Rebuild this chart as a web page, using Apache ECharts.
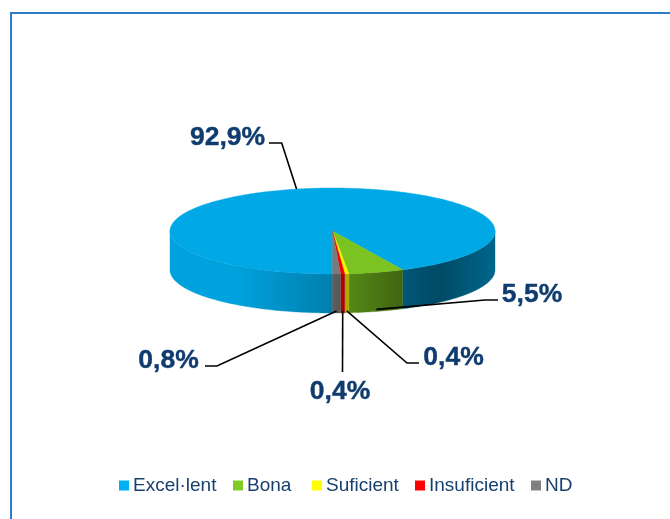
<!DOCTYPE html>
<html>
<head>
<meta charset="utf-8">
<style>html,body{margin:0;padding:0;background:#fff}#c{width:670px;height:519px}</style>
<script src="https://cdn.jsdelivr.net/npm/echarts@6/dist/echarts.min.js"></script>
</head>
<body>
<div id="c"></div>
<script>
// ---- data ----
const categories = ['Excel·lent', 'Bona', 'Suficient', 'Insuficient', 'ND'];
const values = [92.9, 5.5, 0.4, 0.4, 0.8];
const valueLabels = ['92,9%', '5,5%', '0,4%', '0,4%', '0,8%'];

// ---- styles and layout ----
const colors = ['#00B0F0', '#80CC22', '#FFFF00', '#FF0000', '#808080'];
const legendLeft = [119, 233, 312, 415, 531];
const pie = { cx: 332.5, cy: 231, rx: 162.5, ry: 43, depth: 39, start: 180 };
// label centre, and the bend / end of each leader line, per category
const labelLayout = [
  { text: [227.5, 138], line: [[281.7, 143], [269, 143]] },
  { text: [532, 295], line: [[485, 300], [498, 300]] },
  { text: [453.5, 358], line: [[407, 363], [419, 363]] },
  { text: [340, 392], line: [[342.5, 372]] },
  { text: [168.5, 361], line: [[217, 366], [205, 366]] }
];
const labelColor = '#0F3B6E';
const legendColor = '#17406F';
const fontFamily = '"Liberation Sans", Arial, sans-serif';
// side shade across the width of the pie: [fraction, brightness]
const sideShade = [[0, 0.92], [0.2, 0.92], [0.5, 0.72], [0.71, 0.5], [0.83, 0.42], [1, 0.58]];

function shade(hex, k) {
  const n = parseInt(hex.slice(1), 16);
  const f = s => Math.round(((n >> s) & 255) * k);
  return 'rgb(' + f(16) + ',' + f(8) + ',' + f(0) + ')';
}
function point(a, dy) {
  const r = a * Math.PI / 180;
  return [pie.cx + pie.rx * Math.sin(r), pie.cy - pie.ry * Math.cos(r) + (dy || 0)];
}
function arc(a0, a1, dy) {
  const pts = [];
  const n = Math.max(2, Math.ceil(Math.abs(a1 - a0)));
  for (let i = 0; i <= n; i++) pts.push(point(a0 + (a1 - a0) * i / n, dy));
  return pts;
}
const total = values.reduce((a, b) => a + b, 0);
const spans = [];
values.reduce((acc, v) => {
  const a1 = acc + v / total * 360;
  spans.push([acc, a1]);
  return a1;
}, pie.start);

function renderSlice(index) {
  const [a0, a1] = spans[index];
  const col = colors[index];
  const fill = {
    type: 'linear', global: true,
    x: pie.cx - pie.rx, y: 0, x2: pie.cx + pie.rx, y2: 0,
    colorStops: sideShade.map(s => ({ offset: s[0], color: shade(col, s[1]) }))
  };
  const children = [];
  // the visible wall: the front half of the rim, 90..270 and 450..630
  [[90, 270], [450, 630]].forEach(range => {
    const from = Math.max(a0, range[0]), to = Math.min(a1, range[1]);
    if (to <= from) return;
    const pts = arc(from, to, 0).concat(arc(to, from, pie.depth));
    children.push({
      type: 'polygon', silent: true, z2: 1,
      shape: { points: pts },
      style: { fill: fill, stroke: fill, lineWidth: 0.4 }
    });
  });
  // the top face
  const face = shade(col, 0.955);
  children.push({
    type: 'polygon', silent: true, z2: 2,
    shape: { points: [[pie.cx, pie.cy]].concat(arc(a0, a1, 0)) },
    style: { fill: face, stroke: face, lineWidth: 0.4 }
  });
  // leader line from the rim at the slice's middle angle
  const mid = (a0 + a1) / 2;
  const front = Math.cos(mid * Math.PI / 180) < 0;
  const anchor = point(mid, front ? pie.depth - 2 : 0);
  const lay = labelLayout[index];
  children.push({
    type: 'polyline', silent: true, z2: 10,
    shape: { points: [anchor].concat(lay.line) },
    style: { fill: null, stroke: '#000', lineWidth: 1.6 }
  });
  children.push({
    type: 'text', silent: true, z2: 11,
    style: {
      x: lay.text[0], y: lay.text[1], text: valueLabels[index],
      fill: labelColor, stroke: labelColor, lineWidth: 0.4,
      font: 'bold 26.5px ' + fontFamily,
      textAlign: 'center', textVerticalAlign: 'middle'
    }
  });
  return { type: 'group', children: children };
}

const chart = echarts.init(document.getElementById('c'), null, { renderer: 'canvas' });
chart.setOption({
  animation: false,
  backgroundColor: '#fff',
  graphic: [{
    type: 'rect', silent: true,
    shape: { x: 11, y: 13, width: 700, height: 560 },
    style: { fill: null, stroke: '#2C7CC6', lineWidth: 2 }
  }],
  legend: categories.map((name, i) => ({
    data: [name], left: legendLeft[i] - 5, top: 471,
    icon: 'rect', itemWidth: 10, itemHeight: 10, itemGap: 0,
    selectedMode: false,
    textStyle: { color: legendColor, fontSize: 19, fontFamily: fontFamily, padding: [0, 0, 0, -1] }
  })),
  series: categories.map((name, i) => ({
    type: 'custom', name: name, coordinateSystem: 'none',
    itemStyle: { color: colors[i] },
    data: [values[i]],
    renderItem: () => renderSlice(i)
  }))
});
</script>
</body>
</html>
